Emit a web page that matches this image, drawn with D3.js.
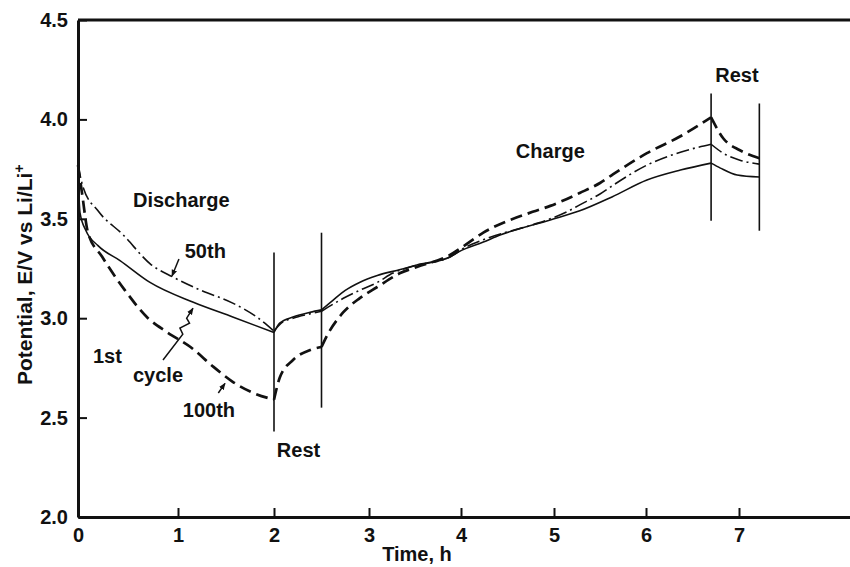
<!DOCTYPE html>
<html>
<head>
<meta charset="utf-8">
<script src="https://cdn.jsdelivr.net/npm/d3@7"></script>
<style>
  html, body { margin: 0; padding: 0; background: #fff; }
  svg { display: block; }
  text { font-family: "Liberation Sans", Arial, sans-serif; font-weight: bold; fill: #111; }
</style>
</head>
<body>
<script>
// ---------------- data ----------------
const xTickValues = [0, 1, 2, 3, 4, 5, 6, 7];
const yTickValues = [2.0, 2.5, 3.0, 3.5, 4.0, 4.5];

// Rest-period marker lines (time, top and bottom potential)
const restTimes  = [2.0, 2.5, 6.7, 7.22];
const restTop    = [3.33, 3.43, 4.13, 4.08];
const restBottom = [2.43, 2.55, 3.49, 3.44];

// 1st cycle (solid)
const cycle1Time = [0, 0.02, 0.08, 0.2, 0.42, 0.72, 1.16, 1.57, 2.0,
                    2.06, 2.2, 2.38, 2.5,
                    2.62, 2.75, 2.9, 3.09, 3.34, 3.52, 3.88, 3.98, 4.24, 4.42, 4.96, 5.28, 5.63, 6.01, 6.37, 6.7,
                    6.8, 6.98, 7.22];
const cycle1Volt = [3.74, 3.53, 3.44, 3.365, 3.29, 3.18, 3.08, 3.006, 2.928,
                    2.975, 3.006, 3.03, 3.042,
                    3.09, 3.14, 3.18, 3.215, 3.245, 3.268, 3.308, 3.335, 3.383, 3.418, 3.494, 3.54, 3.61, 3.695, 3.745, 3.78,
                    3.755, 3.72, 3.71];

// 50th cycle (dash-dot)
const cycle50Time = [0, 0.05, 0.2, 0.45, 0.73, 0.95, 1.23, 1.57, 1.82, 2.0,
                     2.07, 2.2, 2.38, 2.5,
                     2.73, 2.9, 3.09, 3.26, 3.45, 3.88, 4.02, 4.24, 4.77, 4.96, 5.14, 5.28, 5.5, 5.63, 6.01, 6.37, 6.7,
                     6.83, 7.01, 7.22];
const cycle50Volt = [3.77, 3.66, 3.54, 3.42, 3.27, 3.207, 3.142, 3.076, 3.006, 2.935,
                     2.972, 3.0, 3.022, 3.035,
                     3.10, 3.14, 3.18, 3.227, 3.258, 3.308, 3.35, 3.395, 3.47, 3.50, 3.535, 3.57, 3.625, 3.665, 3.77, 3.835, 3.875,
                     3.83, 3.795, 3.775];

// 100th cycle (dashed)
const cycle100Time = [0, 0.04, 0.10, 0.24, 0.47, 0.70, 0.89, 1.13, 1.37, 1.57, 1.78, 2.0,
                      2.06, 2.2, 2.38, 2.5,
                      2.55, 2.73, 2.9, 3.09, 3.34, 3.52, 3.88, 4.02, 4.24, 4.77, 4.96, 5.28, 5.5, 5.63, 6.01, 6.37, 6.7,
                      6.83, 7.01, 7.22];
const cycle100Volt = [3.77, 3.63, 3.43, 3.31, 3.14, 3.0, 2.93, 2.855, 2.755, 2.68, 2.625, 2.59,
                      2.70, 2.79, 2.84, 2.855,
                      2.905, 3.03, 3.10, 3.157, 3.227, 3.258, 3.318, 3.36, 3.43, 3.535, 3.565, 3.63, 3.68, 3.72, 3.83, 3.915, 4.01,
                      3.905, 3.845, 3.805];

const phaseBreaks = [2.0, 2.5, 6.7];

// ---------------- drawing ----------------
const W = 850, H = 567;
const svg = d3.select("body").append("svg").attr("width", W).attr("height", H);
svg.append("rect").attr("width", W).attr("height", H).attr("fill", "#fff");

// the scanned figure's time axis is slightly non-uniform; follow its tick marks
const x = d3.scaleLinear()
  .domain([0, 1, 2, 3, 4, 5, 6, 7, 8.2])
  .range([78, 178, 274, 369, 461, 554, 646, 739, 850]);
const y = d3.scaleLinear().domain([2.0, 4.5]).range([517, 20]);

// axes
const xAxis = d3.axisBottom(x).tickValues(xTickValues).tickSize(-9).tickSizeOuter(0).tickPadding(11)
  .tickFormat(d3.format("d"));
const yAxis = d3.axisLeft(y).tickValues(yTickValues).tickSize(-9).tickSizeOuter(0).tickPadding(10)
  .tickFormat(d3.format(".1f"));

const gx = svg.append("g").attr("transform", `translate(0,${y(2.0)})`).call(xAxis);
const gy = svg.append("g").attr("transform", `translate(${x(0)},0)`).call(yAxis);
[gx, gy].forEach(g => {
  g.select(".domain").attr("stroke", "#111").attr("stroke-width", 3);
  g.selectAll(".tick line").attr("stroke", "#111").attr("stroke-width", 2);
  g.selectAll(".tick text").attr("font-family", "Liberation Sans, Arial, sans-serif")
    .attr("font-weight", "bold").attr("font-size", 20).attr("fill", "#111");
});
gx.selectAll(".tick").filter(d => d === 0).select("line").remove();
// top frame line
svg.append("line")
  .attr("x1", x(0)).attr("x2", x(8.2)).attr("y1", y(4.5)).attr("y2", y(4.5))
  .attr("stroke", "#111").attr("stroke-width", 3);

// rest marker lines
svg.append("g").selectAll("line").data(restTimes).join("line")
  .attr("x1", d => x(d)).attr("x2", d => x(d))
  .attr("y1", (d, i) => y(restTop[i])).attr("y2", (d, i) => y(restBottom[i]))
  .attr("stroke", "#111").attr("stroke-width", 1.6);

// curves, split into discharge / rest / charge / rest phases
function phases(ts, vs) {
  const pts = ts.map((t, i) => [t, vs[i]]);
  const bounds = [0, ...phaseBreaks, Infinity];
  const segs = [];
  for (let k = 0; k < bounds.length - 1; k++) {
    const seg = pts.filter(p => p[0] >= bounds[k] - 1e-9 && p[0] <= bounds[k + 1] + 1e-9);
    if (seg.length > 1) segs.push(seg);
  }
  return segs;
}
const line = d3.line().x(d => x(d[0])).y(d => y(d[1])).curve(d3.curveMonotoneX);

const series = [
  { t: cycle1Time, v: cycle1Volt, width: 1.6, dash: null },
  { t: cycle50Time, v: cycle50Volt, width: 1.6, dash: "13,4,2,4" },
  { t: cycle100Time, v: cycle100Volt, width: 2.7, dash: "12,6" }
];
series.forEach(s => {
  svg.append("g").selectAll("path").data(phases(s.t, s.v)).join("path")
    .attr("d", line)
    .attr("fill", "none").attr("stroke", "#111")
    .attr("stroke-width", s.width)
    .attr("stroke-dasharray", s.dash)
    .attr("stroke-linejoin", "round");
});

// arrows
const defs = svg.append("defs");
defs.append("marker").attr("id", "ah").attr("viewBox", "0 0 10 10")
  .attr("refX", 9).attr("refY", 5).attr("markerWidth", 7).attr("markerHeight", 7)
  .attr("markerUnits", "userSpaceOnUse").attr("orient", "auto")
  .append("path").attr("d", "M0,1 L10,5 L0,9 Z").attr("fill", "#111");

const arrowLine = d3.line().x(d => x(d[0])).y(d => y(d[1]));
const arrows = [
  [[1.01, 3.298], [0.94, 3.212]],
  [[0.85, 2.79], [1.05, 2.92], [1.02, 2.95], [1.12, 2.975], [1.09, 3.0], [1.156, 3.05]],
  [[1.42, 2.624], [1.49, 2.672]]
];
svg.append("g").selectAll("path").data(arrows).join("path")
  .attr("d", arrowLine).attr("fill", "none").attr("stroke", "#111")
  .attr("stroke-width", 1.5).attr("marker-end", "url(#ah)");

// text labels
const labels = [
  { text: "Discharge", t: 0.55, v: 3.559 },
  { text: "50th", t: 1.07, v: 3.303 },
  { text: "1st", t: 0.15, v: 2.775 },
  { text: "cycle", t: 0.55, v: 2.679 },
  { text: "100th", t: 1.05, v: 2.503 },
  { text: "Rest", t: 2.03, v: 2.30 },
  { text: "Charge", t: 4.59, v: 3.806 },
  { text: "Rest", t: 6.745, v: 4.188 }
];
svg.append("g").selectAll("text").data(labels).join("text")
  .attr("x", d => x(d.t)).attr("y", d => y(d.v))
  .attr("font-size", 20).text(d => d.text);

// axis titles
svg.append("text").attr("x", 417).attr("y", 561).attr("text-anchor", "middle")
  .attr("font-size", 20).text("Time, h");

const yl = svg.append("text").attr("transform", "translate(32,385) rotate(-90)")
  .attr("font-size", 21);
yl.append("tspan").text("Potential, E/V vs Li/Li");
yl.append("tspan").attr("font-size", 14).attr("dy", -8).text("+");
</script>
</body>
</html>
